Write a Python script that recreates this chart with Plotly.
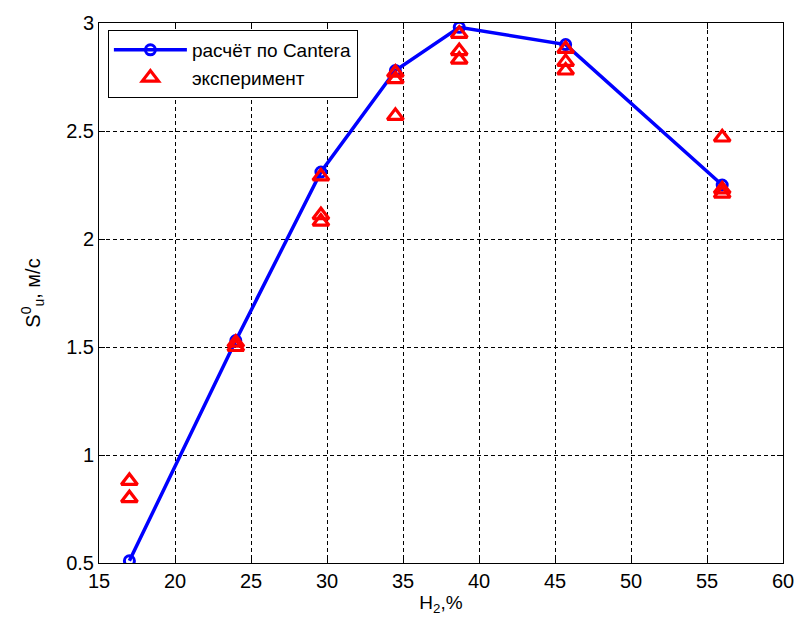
import plotly.graph_objects as go

# Cantera calculation
calc_x = [17.0, 24.0, 29.6, 34.5, 38.7, 45.7, 56.0]
calc_y = [0.51, 1.53, 2.31, 2.78, 2.98, 2.90, 2.25]

# Experiment
exp_x = [17.0, 17.0, 24.0, 24.0, 29.6, 29.6, 29.6, 34.5, 34.5, 34.5,
         38.7, 38.7, 38.7, 45.7, 45.7, 45.7, 56.0, 56.0, 56.0]
exp_y = [0.88, 0.80, 1.52, 1.50, 2.29, 2.11, 2.08, 2.77, 2.74, 2.57,
         2.95, 2.87, 2.83, 2.88, 2.82, 2.78, 2.47, 2.23, 2.21]

x_ticks = [15, 20, 25, 30, 35, 40, 45, 50, 55, 60]
y_ticks = [0.5, 1, 1.5, 2, 2.5, 3]

fig = go.Figure()
fig.add_trace(go.Scatter(
    x=calc_x, y=calc_y, mode="lines+markers", name="расчёт по Cantera",
    line=dict(color="#0000ff", width=3.5),
    marker=dict(symbol="circle-open", size=10, color="#0000ff", line=dict(width=3)),
))
fig.add_trace(go.Scatter(
    x=exp_x, y=exp_y, mode="markers", name="эксперимент",
    marker=dict(symbol="triangle-up-open", size=14, color="#ff0000", line=dict(width=3.2)),
))

axis_common = dict(
    showline=True, linecolor="black", linewidth=1, mirror="ticks",
    ticks="inside", ticklen=6, tickcolor="black",
    showgrid=True, gridcolor="black", griddash="4px,3px", gridwidth=1,
    zeroline=False,
    tickfont=dict(family="Liberation Sans, Arial, sans-serif", size=20, color="black"),
)

fig.update_layout(
    width=806, height=628,
    margin=dict(l=99, r=14, t=18, b=65),
    paper_bgcolor="white", plot_bgcolor="white",
    font=dict(family="Liberation Sans, Arial, sans-serif", size=18, color="black"),
    xaxis=dict(range=[15, 60], tickvals=x_ticks, ticktext=[str(v) for v in x_ticks],
               title=dict(text="H<sub>2</sub>,%", standoff=4, font=dict(size=19)), **axis_common),
    yaxis=dict(range=[0.5, 3], tickvals=y_ticks, ticktext=["0.5", "1", "1.5", "2", "2.5", "3"],
               title=dict(text="S<sup>0</sup><sub>u</sub>, м/с", standoff=20, font=dict(size=20)),
               **axis_common),
    legend=dict(x=0.013, y=0.987, xanchor="left", yanchor="top",
                bgcolor="white", bordercolor="black", borderwidth=1,
                font=dict(size=19), itemwidth=73,
                tracegroupgap=0),
    showlegend=True,
)

fig.write_html("out.html")
